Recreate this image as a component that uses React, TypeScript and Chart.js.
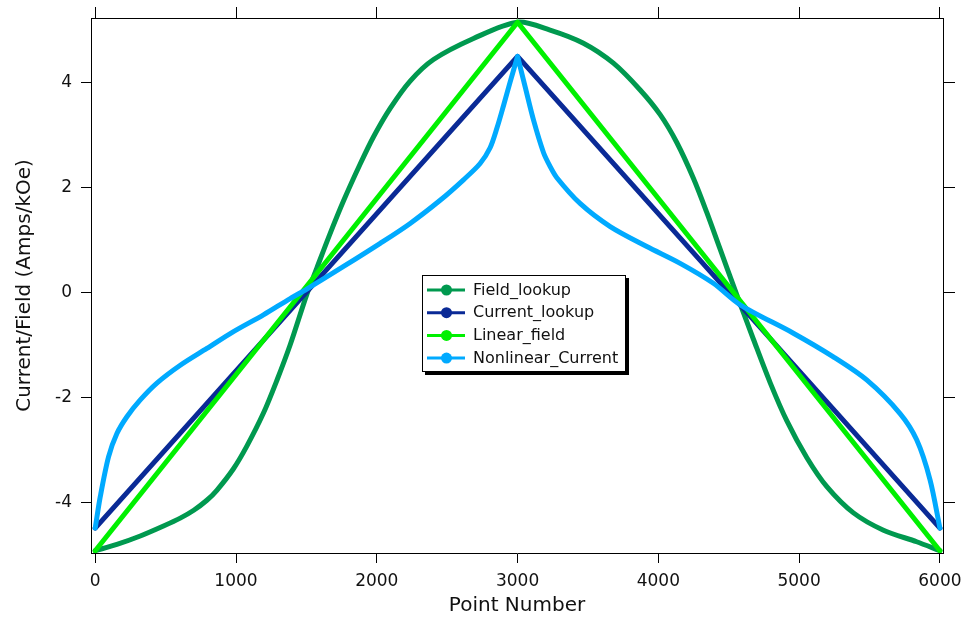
import React, { useEffect, useRef } from "react";
import { Chart, registerables } from "chart.js";

Chart.register(...registerables);

// ---- Data ----
const seriesNames = ["Field_lookup", "Current_lookup", "Linear_field", "Nonlinear_Current"];
const seriesColors = ["#00994f", "#0a2a96", "#00f000", "#00aaff"];
const seriesTension = [0.3, 0, 0, 0.3];

const fieldLookupX = [0, 154, 320, 485, 604, 700, 793, 864, 982, 1077, 1195, 1290, 1385, 1503, 1574, 1669, 1764, 1882, 1977, 2095, 2237, 2403, 2687, 3000,
  3231, 3468, 3681, 3871, 4013, 4131, 4249, 4344, 4439, 4534, 4581, 4676, 4794, 4913, 5055, 5197, 5386, 5599, 5835, 6000];
const fieldLookupY = [-4.92, -4.8, -4.64, -4.45, -4.3, -4.15, -3.96, -3.77, -3.36, -2.93, -2.3, -1.68, -1.0, -0.04, 0.46, 1.12, 1.74, 2.44, 2.96, 3.5, 4.02, 4.43, 4.83, 5.14,
  4.99, 4.74, 4.36, 3.85, 3.38, 2.85, 2.17, 1.52, 0.82, 0.12, -0.22, -0.9, -1.72, -2.45, -3.15, -3.7, -4.2, -4.53, -4.75, -4.92];

const currentLookupX = [0, 3000, 6000];
const currentLookupY = [-4.49, 4.49, -4.49];

const linearFieldX = [0, 3000, 6000];
const linearFieldY = [-4.92, 5.14, -4.92];

// the peak sample at 3000 is listed twice so the smoothed curve keeps its cusp
const nonlinearCurrentX = [0, 36, 95, 154, 225, 320, 438, 604, 793, 982, 1195, 1385, 1503, 1764, 2024, 2237, 2450, 2616, 2734, 2805, 2853, 2900, 2947, 3000,
  3000, 3054, 3113, 3184, 3230, 3279, 3444, 3658, 3918, 4155, 4391, 4581, 4959, 5243, 5480, 5717, 5835, 5930, 6000];
const nonlinearCurrentY = [-4.49, -3.89, -3.13, -2.69, -2.37, -2.05, -1.73, -1.39, -1.07, -0.75, -0.43, -0.12, 0.06, 0.49, 0.93, 1.31, 1.75, 2.14, 2.45, 2.75, 3.12, 3.55, 4.0, 4.49,
  4.49, 3.91, 3.28, 2.66, 2.4, 2.18, 1.69, 1.25, 0.87, 0.55, 0.17, -0.24, -0.78, -1.23, -1.67, -2.31, -2.81, -3.57, -4.49];

const xTickValues = [0, 1000, 2000, 3000, 4000, 5000, 6000];
const yTickValues = [-4, -2, 0, 2, 4];

const X_MIN = -30;
const X_MAX = 6022;
const Y_MIN = -4.964;
const Y_MAX = 5.22;

const xTitle = "Point Number";
const yTitle = "Current/Field (Amps/kOe)";

const FONT = "'DejaVu Sans', sans-serif";

function pts(xs: number[], ys: number[]) {
  return xs.map((x, i) => ({ x, y: ys[i] }));
}

const legendPlugin = {
  id: "boxLegend",
  afterDatasetsDraw(chart: any) {
    const { ctx, chartArea: a } = chart;
    const w = a.right - a.left;
    const h = a.bottom - a.top;
    const bx = Math.round(a.left + w * 0.3885);
    const by = Math.round(a.top + h * 0.4804);
    const bw = 204;
    const bh = 97;
    ctx.save();
    ctx.fillStyle = "#000";
    ctx.fillRect(bx + 3, by + 3, bw, bh);
    ctx.fillStyle = "#fff";
    ctx.fillRect(bx, by, bw, bh);
    ctx.strokeStyle = "#000";
    ctx.lineWidth = 1;
    ctx.strokeRect(bx + 0.5, by + 0.5, bw - 1, bh - 1);
    ctx.font = "16px " + FONT;
    ctx.textBaseline = "middle";
    ctx.textAlign = "left";
    chart.data.datasets.forEach((ds: any, i: number) => {
      const cy = by + 15 + i * 22.7;
      ctx.strokeStyle = ds.borderColor;
      ctx.lineWidth = 3;
      ctx.beginPath();
      ctx.moveTo(bx + 5, cy);
      ctx.lineTo(bx + 43, cy);
      ctx.stroke();
      ctx.fillStyle = ds.borderColor;
      ctx.beginPath();
      ctx.arc(bx + 24.5, cy, 5.5, 0, Math.PI * 2);
      ctx.fill();
      ctx.fillStyle = "#111";
      ctx.fillText(ds.label, bx + 51, cy + 0.5);
    });
    ctx.restore();
  },
};

export default function App() {
  const ref = useRef<HTMLCanvasElement | null>(null);

  useEffect(() => {
    if (!ref.current) return;
    Chart.defaults.font.family = FONT;
    const xsList = [fieldLookupX, currentLookupX, linearFieldX, nonlinearCurrentX];
    const ysList = [fieldLookupY, currentLookupY, linearFieldY, nonlinearCurrentY];
    const drawOrder = [4, 3, 2, 1];

    const gridOpts = (len: number) => ({
      display: true,
      drawOnChartArea: false,
      drawTicks: true,
      tickLength: len,
      color: "#000",
      lineWidth: 1,
    });
    const borderOpts = { display: true, color: "#000", width: 1 };
    const setX = (s: any) => { s.ticks = xTickValues.map((v) => ({ value: v })); };
    const setY = (s: any) => { s.ticks = yTickValues.map((v) => ({ value: v })); };
    const plain = (v: any) => String(v);

    const chart = new Chart(ref.current, {
      type: "line",
      data: {
        datasets: seriesNames.map((name, i) => ({
          label: name,
          data: pts(xsList[i], ysList[i]),
          borderColor: seriesColors[i],
          backgroundColor: seriesColors[i],
          borderWidth: 5,
          pointRadius: 0,
          tension: seriesTension[i],
          fill: false,
          borderJoinStyle: "round" as const,
          borderCapStyle: "round" as const,
          order: drawOrder[i],
          xAxisID: "x",
          yAxisID: "y",
        })),
      },
      options: {
        animation: false,
        responsive: false,
        layout: { padding: { left: 0, right: 11, top: 7, bottom: 0 } },
        plugins: { legend: { display: false }, tooltip: { enabled: false } },
        scales: {
          x: {
            type: "linear",
            position: "bottom",
            min: X_MIN,
            max: X_MAX,
            afterBuildTicks: setX,
            afterFit: (s: any) => { s.height = 69; s.paddingRight = 0; s.paddingLeft = 0; },
            grid: gridOpts(10),
            border: borderOpts,
            ticks: { color: "#111", font: { size: 17 }, padding: 8, maxRotation: 0, autoSkip: false, callback: plain },
            title: { display: true, text: xTitle, color: "#111", font: { size: 20 }, padding: { top: 0, bottom: 4 } },
          },
          x2: {
            type: "linear",
            position: "top",
            min: X_MIN,
            max: X_MAX,
            afterBuildTicks: setX,
            afterFit: (s: any) => { s.height = 11; s.paddingRight = 0; s.paddingLeft = 0; },
            grid: gridOpts(11),
            border: borderOpts,
            ticks: { display: false, callback: plain },
          },
          y: {
            type: "linear",
            position: "left",
            min: Y_MIN,
            max: Y_MAX,
            afterBuildTicks: setY,
            afterFit: (s: any) => { s.width = 91; s.paddingTop = 0; s.paddingBottom = 0; },
            grid: gridOpts(10),
            border: borderOpts,
            ticks: { color: "#111", font: { size: 17 }, padding: 9, callback: plain },
            title: { display: true, text: yTitle, color: "#111", font: { size: 20 }, padding: { top: 13, bottom: 0 } },
          },
          y2: {
            type: "linear",
            position: "right",
            min: Y_MIN,
            max: Y_MAX,
            afterBuildTicks: setY,
            afterFit: (s: any) => { s.width = 12; s.paddingTop = 0; s.paddingBottom = 0; },
            grid: gridOpts(12),
            border: borderOpts,
            ticks: { display: false, callback: plain },
          },
        },
      } as any,
      plugins: [legendPlugin],
    });
    return () => chart.destroy();
  }, []);

  return (
    <div style={{ position: "fixed", left: 0, top: 0, width: 966, height: 622, background: "#fff" }}>
      <canvas ref={ref} width={966} height={622} style={{ display: "block" }} />
    </div>
  );
}
